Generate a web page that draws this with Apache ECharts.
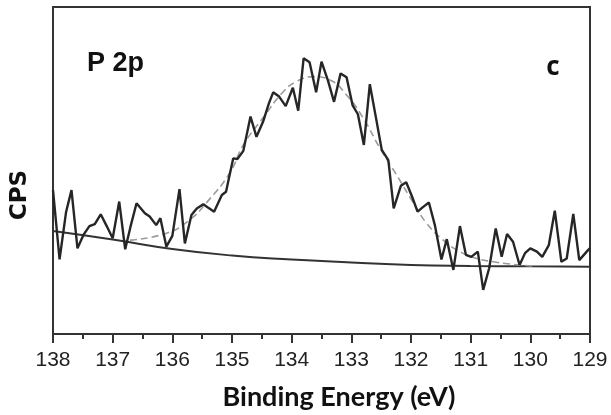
<!DOCTYPE html>
<html>
<head>
<meta charset="utf-8">
<script src="https://cdn.jsdelivr.net/npm/echarts@6/dist/echarts.min.js"></script>
<style>
  html, body { margin: 0; padding: 0; background: #fff; }
  #chart { width: 611px; height: 415px; }
</style>
</head>
<body>
<div id="chart"></div>
<script>
// raw P 2p spectrum (binding energy in eV, counts in arbitrary units)
const energy = [138.00,137.89,137.78,137.69,137.59,137.49,137.39,137.30,137.20,137.10,
  137.00,136.89,136.79,136.70,136.60,136.46,136.38,136.27,136.20,136.10,
  136.00,135.88,135.79,135.68,135.59,135.48,135.39,135.30,135.17,135.10,
  135.04,134.98,134.91,134.81,134.69,134.59,134.48,134.38,134.31,134.21,
  134.10,133.98,133.89,133.80,133.70,133.59,133.50,133.39,133.29,133.18,
  133.08,132.98,132.89,132.79,132.69,132.58,132.49,132.38,132.29,132.17,
  132.08,131.98,131.89,131.80,131.70,131.60,131.49,131.40,131.29,131.18,
  131.08,130.99,130.88,130.79,130.69,130.58,130.48,130.39,130.29,130.18,
  130.09,130.00,129.89,129.80,129.69,129.59,129.48,129.39,129.28,129.18,
  129.04,129.00];
const counts = [44.0,22.8,37.4,44.0,26.2,30.3,33.0,33.6,36.6,33.0,
  29.3,40.5,25.9,32.9,40.0,36.9,35.9,33.3,35.4,26.7,
  30.0,44.3,27.7,36.4,38.4,39.7,38.5,37.4,42.5,43.5,
  48.6,53.7,53.5,56.0,66.5,60.3,64.9,70.6,73.9,72.6,
  69.7,75.3,68.3,84.3,83.1,73.9,83.3,77.4,71.0,79.7,
  78.5,70.0,67.2,57.8,76.4,65.4,56.3,53.2,38.4,45.3,
  46.4,41.9,37.4,38.8,40.2,33.3,22.8,29.0,19.6,33.0,
  24.2,23.6,25.2,13.5,20.1,32.3,23.6,30.6,28.2,21.1,
  24.7,26.2,25.2,23.6,27.2,37.7,22.1,23.1,36.7,22.6,
  25.5,26.3];

// fitted envelope (dashed)
const fitEnergy = [136.71,136.10,135.71,135.43,135.04,134.81,134.48,134.14,133.92,133.64,
  133.36,133.08,132.80,132.52,132.24,131.96,131.74,131.46,131.18,130.90,
  130.62,130.34,130.12,129.95];
const fitCounts = [28.7,30.8,34.9,40.1,49.2,57.8,66.1,74.1,77.2,78.7,
  77.7,73.1,66.0,56.8,48.6,40.1,33.9,28.7,25.2,23.1,
  22.1,21.4,21.0,20.8];

// background
const baseEnergy = [138, 137, 136, 135, 134, 133, 132, 131, 130, 129];
const baseCounts = [31.5, 28.9, 26.0, 24.0, 22.8, 21.9, 21.1, 20.8, 20.7, 20.6];

const pairs = (xs, ys) => xs.map((x, i) => [x, ys[i]]);

const chart = echarts.init(document.getElementById('chart'));

const option = {
  animation: false,
  backgroundColor: '#fff',
  grid: {
    left: 53, right: 21, top: 7, bottom: 81,
    show: true,
    borderColor: '#333',
    borderWidth: 2
  },
  xAxis: {
    type: 'value',
    min: 129,
    max: 138,
    interval: 1,
    inverse: true,
    axisLine: { show: true, lineStyle: { color: '#333', width: 2 } },
    axisTick: { show: true, inside: false, length: 9, lineStyle: { color: '#333', width: 2 } },
    minorTick: { show: true, splitNumber: 2, length: 5, lineStyle: { color: '#333', width: 2 } },
    splitLine: { show: false },
    axisLabel: {
      margin: 16,
      fontFamily: 'Liberation Sans Narrow, Liberation Sans, sans-serif',
      fontSize: 21,
      color: '#222'
    }
  },
  yAxis: {
    type: 'value',
    min: 0,
    max: 100,
    axisLine: { show: true, lineStyle: { color: '#333', width: 2 } },
    axisTick: { show: false },
    axisLabel: { show: false },
    splitLine: { show: false }
  },
  graphic: [
    {
      type: 'text', left: 87, top: 50,
      style: { text: 'P 2p', font: 'bold 27px "Liberation Sans", Arial, sans-serif', fill: '#111' }
    },
    {
      type: 'text', x: 553, y: 68,
      style: {
        text: 'c', font: 'bold 26px "Open Sans", sans-serif', fill: '#111',
        align: 'center', verticalAlign: 'middle'
      }
    },
    {
      type: 'text', x: 339, y: 397,
      style: {
        text: 'Binding Energy (eV)', font: 'bold 27px Lato, sans-serif', fill: '#111',
        align: 'center', verticalAlign: 'middle'
      }
    },
    {
      type: 'text', x: 20, y: 195, rotation: Math.PI / 2,
      style: {
        text: 'CPS', font: 'bold 23px "DejaVu Sans", sans-serif', fill: '#111',
        align: 'center', verticalAlign: 'middle'
      }
    }
  ],
  series: [
    {
      name: 'Background',
      type: 'line',
      data: pairs(baseEnergy, baseCounts),
      smooth: true,
      showSymbol: false,
      lineStyle: { color: '#333', width: 2 },
      z: 2
    },
    {
      name: 'Fit',
      type: 'line',
      data: pairs(fitEnergy, fitCounts),
      smooth: true,
      showSymbol: false,
      lineStyle: { color: '#9a9a9a', width: 1.6, type: [7, 4] },
      z: 3
    },
    {
      name: 'P 2p',
      type: 'line',
      data: pairs(energy, counts),
      showSymbol: false,
      lineStyle: { color: '#262626', width: 2.4 },
      z: 4
    }
  ]
};

chart.setOption(option);
</script>
</body>
</html>
